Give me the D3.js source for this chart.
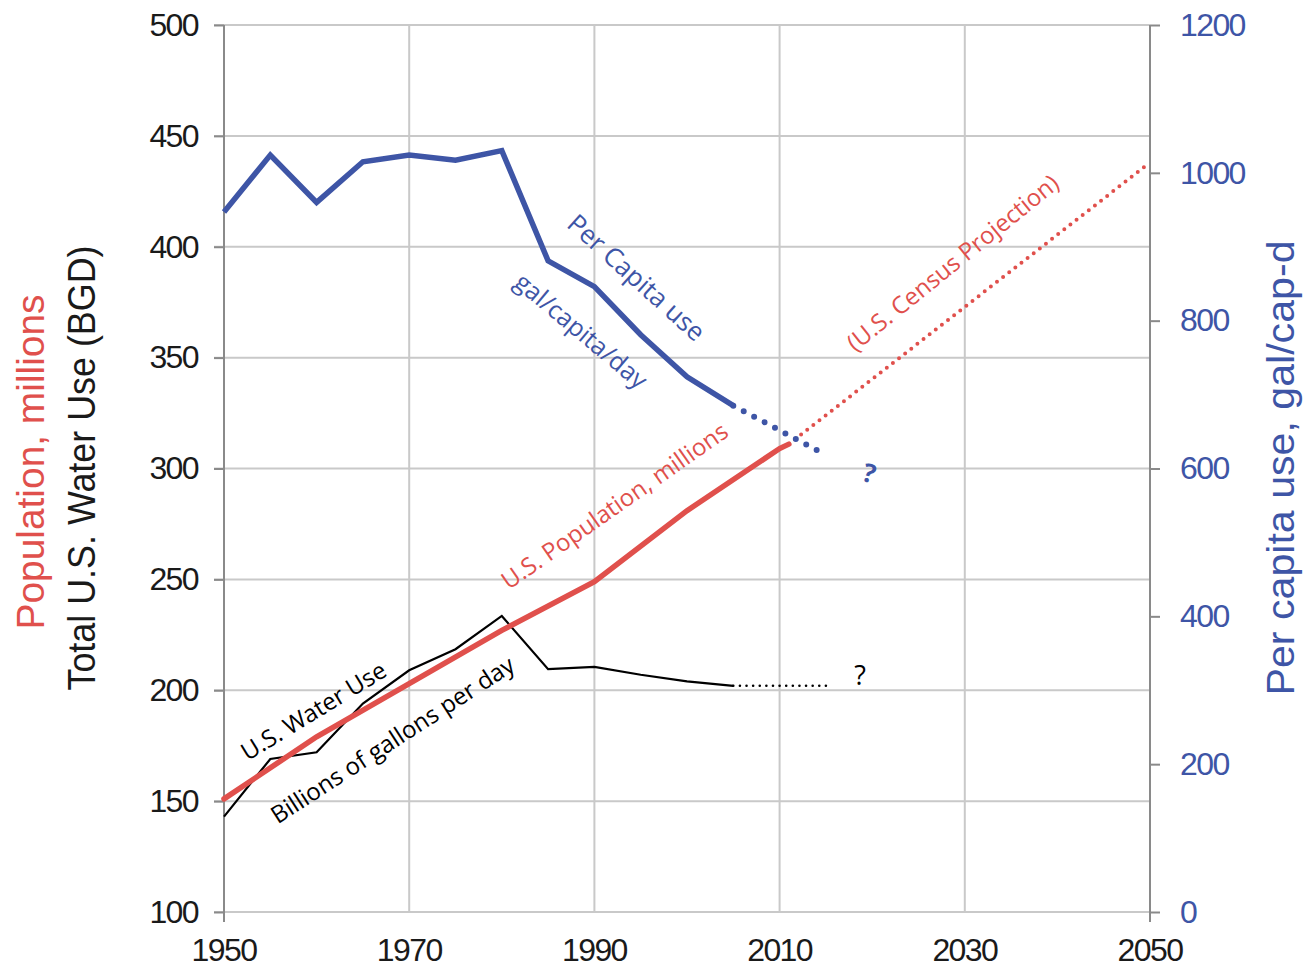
<!DOCTYPE html>
<html>
<head>
<meta charset="utf-8">
<script src="https://cdn.jsdelivr.net/npm/d3@7"></script>
<style>
body { margin: 0; background: #fff; }
svg text { font-family: "Liberation Sans", Arial, sans-serif; }
.ann { font-family: "Open Sans", sans-serif; font-size: 24px; }
</style>
</head>
<body>
<div id="chart"></div>
<script>
// data
var popYears   = [1950, 1960, 1970, 1980, 1990, 2000, 2010, 2011];
var popValues  = [151, 179, 203, 227, 249, 281, 309, 311];
var projYears  = [2011, 2050];
var projValues = [311, 438];

var useYears  = [1950, 1955, 1960, 1965, 1970, 1975, 1980, 1985, 1990, 1995, 2000, 2005];
var useValues = [143, 169, 172, 194, 209, 218.5, 233.5, 209.5, 210.5, 207, 204, 202];
var useGuessYears  = [2005, 2015];
var useGuessValues = [202, 202];

var capYears  = [1950, 1955, 1960, 1965, 1970, 1975, 1980, 1985, 1990, 1995, 2000, 2005];
var capValues = [947, 1024, 960, 1015, 1024, 1017, 1030, 881, 846, 781, 724, 685];
var capGuessYears  = [2005, 2014];
var capGuessValues = [685, 625];

var xTicks = [1950, 1970, 1990, 2010, 2030, 2050];
var leftTicks = [100, 150, 200, 250, 300, 350, 400, 450, 500];
var rightTicks = [0, 200, 400, 600, 800, 1000, 1200];

var red = "#e0504c", blue = "#3e55a6", grid = "#c9c9c9", axisCol = "#8a8a8a";

var W = 1306, H = 967;
var svg = d3.select("#chart").append("svg").attr("width", W).attr("height", H);

var x = d3.scaleLinear().domain([1950, 2050]).range([224, 1150]);
var yL = d3.scaleLinear().domain([100, 500]).range([912, 25]);
var yR = d3.scaleLinear().domain([0, 1200]).range([912, 25]);

// gridlines
svg.append("g").selectAll("line").data(leftTicks).enter().append("line")
    .attr("x1", 214).attr("x2", x(2050))
    .attr("y1", function(d) { return yL(d); }).attr("y2", function(d) { return yL(d); })
    .style("stroke", grid).style("stroke-width", 2);
svg.append("g").selectAll("line").data(xTicks.slice(1, -1)).enter().append("line")
    .attr("x1", function(d) { return x(d); }).attr("x2", function(d) { return x(d); })
    .attr("y1", yL(500)).attr("y2", yL(100))
    .style("stroke", grid).style("stroke-width", 2);

// left axis
var gl = svg.append("g").attr("transform", "translate(" + x(1950) + ",0)")
    .call(d3.axisLeft(yL).tickValues(leftTicks).tickSize(10).tickPadding(16));
gl.select(".domain").attr("d", "M0," + yL(500) + "V" + (yL(100) + 10)).style("stroke", axisCol).style("stroke-width", 2);
gl.selectAll(".tick line").style("stroke", axisCol).style("stroke-width", 2);
gl.selectAll(".tick text").style("font-size", "32px").style("letter-spacing", "-1.6px").style("fill", "#1a1a1a");

// right axis
var gr = svg.append("g").attr("transform", "translate(" + x(2050) + ",0)")
    .call(d3.axisRight(yR).tickValues(rightTicks).tickFormat(d3.format("d")).tickSize(10).tickPadding(20));
gr.select(".domain").attr("d", "M0," + yR(1200) + "V" + (yR(0) + 10)).style("stroke", axisCol).style("stroke-width", 2);
gr.selectAll(".tick line").style("stroke", axisCol).style("stroke-width", 2);
gr.selectAll(".tick text").style("font-size", "32px").style("letter-spacing", "-1.6px").style("fill", blue);

// bottom labels
svg.append("g").selectAll("text").data(xTicks).enter().append("text")
    .attr("x", function(d) { return x(d); }).attr("y", 961)
    .attr("text-anchor", "middle")
    .style("font-size", "32px").style("letter-spacing", "-1.6px").style("fill", "#1a1a1a")
    .text(function(d) { return d; });

// axis titles
function title(tx, ty, len, col, txt) {
    svg.append("text").attr("transform", "translate(" + tx + "," + ty + ") rotate(-90)")
        .attr("text-anchor", "middle").attr("textLength", len).attr("lengthAdjust", "spacingAndGlyphs")
        .style("font-size", "39px").style("fill", col).text(txt);
}
title(44, 462, 335, red, "Population, millions");
title(95, 468, 445, "#1a1a1a", "Total U.S. Water Use (BGD)");
title(1294, 468, 455, blue, "Per capita use, gal/cap-d");

function series(years, vals, y) {
    return years.map(function(d, i) { return [x(d), y(vals[i])]; });
}
var line = d3.line();

// dotted path with a dot landing on both ends
function dotted(pts, col, w, gap) {
    var p = svg.append("path").attr("d", line(pts))
        .style("fill", "none").style("stroke", col).style("stroke-width", w)
        .style("stroke-linecap", "round");
    var len = p.node().getTotalLength();
    var n = Math.max(1, Math.round(len / gap));
    p.style("stroke-dasharray", "0 " + (len / n));
    return p;
}

// water use
svg.append("path").attr("d", line(series(useYears, useValues, yL)))
    .style("fill", "none").style("stroke", "#000").style("stroke-width", 2.2);
dotted(series(useGuessYears, useGuessValues, yL), "#000", 2.6, 6.6);

// population
svg.append("path").attr("d", line(series(popYears, popValues, yL)))
    .style("fill", "none").style("stroke", red).style("stroke-width", 5.5).style("stroke-linecap", "round");
dotted(series(projYears, projValues, yL), red, 4, 7.8);

// per capita
svg.append("path").attr("d", line(series(capYears, capValues, yR)))
    .style("fill", "none").style("stroke", blue).style("stroke-width", 5.5).style("stroke-linejoin", "miter");
dotted(series(capGuessYears, capGuessValues, yR), blue, 6, 12.3);

// annotations
var labels = [
    { t: "Per Capita use", cx: 637, cy: 277, a: 42, c: blue, s: 26 },
    { t: "gal/capita/day", cx: 582, cy: 330, a: 40, c: blue, s: 25 },
    { t: "U.S. Population, millions", cx: 614, cy: 505, a: -35, c: red, s: 24 },
    { t: "(U.S. Census Projection)", cx: 952, cy: 262, a: -39, c: red, s: 24 },
    { t: "U.S. Water Use", cx: 313, cy: 710, a: -31.5, c: "#000", s: 24 },
    { t: "Billions of gallons per day", cx: 392, cy: 739, a: -33, c: "#000", s: 24 }
];
svg.append("g").selectAll("text").data(labels).enter().append("text")
    .attr("class", "ann")
    .attr("transform", function(d) { return "translate(" + d.cx + "," + d.cy + ") rotate(" + d.a + ")"; })
    .attr("text-anchor", "middle").attr("dominant-baseline", "central")
    .style("font-size", function(d) { return d.s + "px"; })
    .style("fill", function(d) { return d.c; })
    .text(function(d) { return d.t; });

svg.append("text").attr("x", 860).attr("y", 685).attr("text-anchor", "middle")
    .attr("class", "ann").style("font-size", "27px").style("fill", "#000").text("?");
svg.append("text").attr("transform", "translate(867,482) rotate(15)").attr("text-anchor", "middle")
    .attr("class", "ann").style("font-size", "26px").style("font-weight", "bold").style("fill", blue).text("?");
</script>
</body>
</html>
